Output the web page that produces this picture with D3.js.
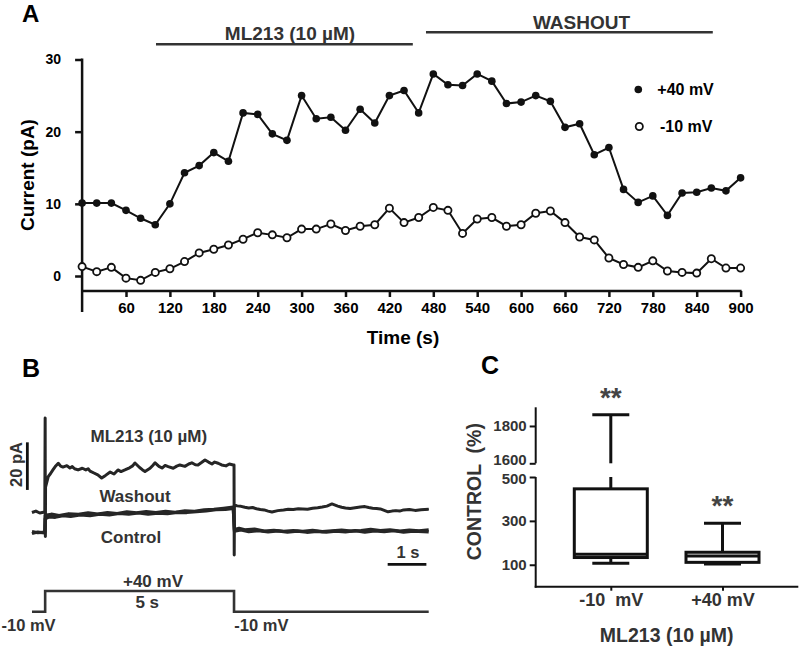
<!DOCTYPE html>
<html>
<head>
<meta charset="utf-8">
<script src="https://cdn.jsdelivr.net/npm/d3@7"></script>
<style>
  body { margin: 0; background: #fff; }
  svg { display: block; }
  text { font-family: "Liberation Sans", Arial, sans-serif; font-weight: bold; }
</style>
</head>
<body>
<script>
// ---------------- Panel A data ----------------
const timeA = [0,20,40,60,80,100,120,140,160,180,200,220,240,260,280,300,320,340,360,380,400,420,440,460,480,500,520,540,560,580,600,620,640,660,680,700,720,740,760,780,800,820,840,860,880,900];
const plus40 = [10.1,10.1,10.1,9.1,8.0,7.1,10.0,14.3,15.3,17.1,15.9,22.6,22.4,19.7,18.8,25.0,21.8,22.0,20.2,23.1,21.2,25.0,25.7,22.6,28.0,26.5,26.4,28.0,27.0,23.9,24.1,25.0,24.2,20.6,21.1,16.8,17.8,12.0,10.2,11.1,8.4,11.5,11.6,12.2,11.8,13.6];
const minus10 = [1.3,0.6,1.2,-0.3,-0.6,0.5,1.0,2.0,3.2,3.7,4.3,5.1,6.0,5.7,5.3,6.5,6.5,7.2,6.3,6.9,7.1,9.4,7.4,8.1,9.5,9.1,5.9,7.9,8.1,6.9,7.1,8.7,9.0,7.4,5.4,5.0,2.5,1.6,1.2,2.1,0.7,0.5,0.4,2.4,1.1,1.1];
const yTicksA = [0,10,20,30];
const xTicksA = [60,120,180,240,300,360,420,480,540,600,660,720,780,840,900];
const periods = [ {label: "ML213 (10 µM)", start: 101, end: 452}, {label: "WASHOUT", start: 470, end: 862} ];
const legendA = ["+40 mV", "-10 mV"];

// ---------------- Panel B data (time s, current pA) ----------------
const traceML213 = [[0,8.6],[0.1,9.2],[0.2,8.4],[0.33,8.8],[0.34,48.3],[0.345,-1.5],[0.35,19.3],
 [0.42,23.7],[0.48,25.0],[0.54,26.5],[0.6,27.9],[0.68,29.3],[0.74,28.1],[0.8,27.7],[0.9,28.3],[0.98,27.3],[1.04,27.9],[1.1,27.0],[1.19,26.5],[1.3,27.2],[1.39,26.5],[1.45,27.0],[1.5,26.0],[1.6,25.2],[1.7,24.4],[1.8,23.1],[1.9,24.2],[2.02,25.6],[2.12,24.8],[2.22,26.5],[2.3,25.8],[2.4,26.5],[2.52,27.4],[2.6,28.2],[2.66,29.4],[2.78,27.5],[2.85,26.6],[2.92,25.8],[3.05,27.2],[3.12,28.4],[3.18,29.5],[3.28,28.0],[3.36,27.3],[3.44,28.4],[3.52,27.9],[3.65,27.2],[3.74,28.1],[3.82,28.6],[3.95,28.0],[4.05,29.0],[4.13,29.5],[4.22,28.7],[4.29,28.6],[4.38,29.6],[4.47,30.7],[4.56,29.8],[4.65,29.0],[4.72,29.8],[4.81,29.3],[4.9,28.6],[5.01,28.2],[5.1,29.0],[5.2,28.6],
 [5.22,28.6],[5.225,-9.2],[5.23,11.8],
 [5.3,11.4],[5.4,11.2],[5.5,10.8],[5.6,10.5],[5.7,10.7],[5.8,10.2],[5.9,9.9],[6.0,9.7],[6.1,9.2],[6.2,8.8],[6.35,9.4],[6.5,9.7],[6.62,10.0],[6.75,9.9],[6.88,10.2],[7.0,10.1],[7.12,10.0],[7.25,10.4],[7.38,10.6],[7.5,10.9],[7.62,11.3],[7.75,12.2],[7.9,11.3],[8.0,10.8],[8.1,10.5],[8.22,10.3],[8.35,10.6],[8.48,10.9],[8.6,11.1],[8.7,10.7],[8.8,10.4],[8.9,10.3],[9.0,10.1],[9.1,9.5],[9.2,8.9],[9.3,9.2],[9.4,9.4],[9.5,9.2],[9.6,9.7],[9.75,9.9],[9.9,9.5],[10.05,9.8],[10.25,10.0]];
const traceControl = [[0,-0.2],[0.15,0.4],[0.33,0.0],[0.34,6.0],[0.45,6.8],[0.6,6.6],[0.8,7.3],[1.0,7.0],[1.25,7.6],[1.5,7.3],[1.75,7.9],[2.0,7.6],[2.25,8.2],[2.5,7.9],[2.75,8.4],[3.0,7.9],[3.25,8.3],[3.5,8.1],[3.75,8.7],[4.0,8.6],[4.25,9.0],[4.5,9.3],[4.75,9.8],[5.0,9.9],[5.2,10.3],
 [5.23,1.5],[5.35,2.0],[5.5,1.3],[5.75,1.6],[6.0,0.8],[6.25,1.1],[6.5,0.7],[6.75,1.0],[7.0,0.7],[7.25,1.1],[7.5,0.6],[7.75,0.9],[8.0,1.2],[8.25,0.8],[8.5,1.0],[8.75,1.5],[9.0,1.0],[9.25,1.3],[9.5,0.8],[9.75,1.2],[10.0,0.9],[10.25,1.3]];
const traceWashout = [[0,0.6],[0.15,0.1],[0.33,0.4],[0.34,7.4],[0.5,7.9],[0.7,7.3],[0.95,8.1],[1.2,7.8],[1.45,8.5],[1.7,7.9],[1.95,8.6],[2.2,8.2],[2.45,8.9],[2.7,8.5],[2.95,9.0],[3.2,8.6],[3.45,9.1],[3.7,8.7],[3.95,9.3],[4.2,9.1],[4.45,9.7],[4.7,9.9],[4.95,10.4],[5.2,10.9],
 [5.23,0.8],[5.4,1.3],[5.6,0.6],[5.85,1.0],[6.1,0.5],[6.35,0.9],[6.6,0.4],[6.85,0.8],[7.1,0.3],[7.35,0.7],[7.6,0.4],[7.85,0.8],[8.1,0.5],[8.35,1.0],[8.6,0.4],[8.85,0.9],[9.1,0.6],[9.35,1.0],[9.6,0.4],[9.85,0.8],[10.25,0.5]];
const protocol = [[0,-10],[0.34,-10],[0.34,40],[5.22,40],[5.22,-10],[10.25,-10]];

// ---------------- Panel C data ----------------
const groupsC = ["-10  mV", "+40 mV"];
const boxMin = [107, 104];
const boxQ1 = [133, 111];
const boxMedian = [148, 140];
const boxQ3 = [446, 157];
const boxMax = [1860, 289];
const lowTicksC = [100, 300, 500];
const highTicksC = [1600, 1800];

const ink = "#111";
const grey = "#333";

const svg = d3.select("body").append("svg").attr("width", 800).attr("height", 651);

// ================= Panel A =================
const xA = d3.scaleLinear().domain([0, 900]).range([82.1, 740.6]);
const yA = d3.scaleLinear().domain([0, 30]).range([276, 59.5]);
const gA = svg.append("g");

gA.append("text").attr("x", 22).attr("y", 22).attr("font-size", 24).attr("fill", "#000").text("A");

// y axis
const yAx = gA.append("g").attr("transform", `translate(${xA(0)},0)`)
  .call(d3.axisLeft(yA).tickValues(yTicksA).tickSize(7).tickPadding(14).tickFormat(d3.format("d")));
yAx.select(".domain").remove();
yAx.selectAll(".tick line").attr("stroke", ink).attr("stroke-width", 2.5);
yAx.selectAll(".tick text").attr("font-size", 14).attr("fill", "#000");
gA.append("line").attr("x1", xA(0)).attr("x2", xA(0)).attr("y1", yA(30) - 1).attr("y2", 312)
  .attr("stroke", ink).attr("stroke-width", 2.5);

// x axis
const xAx = gA.append("g").attr("transform", "translate(0,291)")
  .call(d3.axisBottom(xA).tickValues(xTicksA).tickSize(6).tickPadding(5).tickFormat(d3.format("d")));
xAx.select(".domain").remove();
xAx.selectAll(".tick line").attr("stroke", ink).attr("stroke-width", 2.5);
xAx.selectAll(".tick text").attr("font-size", 15).attr("fill", "#000");
gA.append("line").attr("x1", xA(0)).attr("x2", xA(900) + 1).attr("y1", 291).attr("y2", 291)
  .attr("stroke", ink).attr("stroke-width", 2.5);

gA.append("text").attr("x", 403).attr("y", 344).attr("text-anchor", "middle").attr("font-size", 19).attr("fill", "#000").text("Time (s)");
gA.append("text").attr("transform", "translate(34,175) rotate(-90)").attr("text-anchor", "middle").attr("font-size", 19).attr("fill", "#000").text("Current (pA)");

// period bars
const barY = [44.3, 32.3];
const labY = [39.5, 28.5];
periods.forEach((p, i) => {
  gA.append("line").attr("x1", xA(p.start)).attr("x2", xA(p.end)).attr("y1", barY[i]).attr("y2", barY[i])
    .attr("stroke", grey).attr("stroke-width", 2.5);
  gA.append("text").attr("x", i === 0 ? 290 : 581.5).attr("y", labY[i]).attr("text-anchor", "middle")
    .attr("font-size", 19).attr("fill", grey).text(p.label);
});

// series
const lineA = d3.line().x((d, i) => xA(timeA[i])).y(d => yA(d));
gA.append("path").datum(plus40).attr("d", lineA).attr("fill", "none").attr("stroke", ink).attr("stroke-width", 2);
gA.append("path").datum(minus10).attr("d", lineA).attr("fill", "none").attr("stroke", ink).attr("stroke-width", 2);
gA.selectAll(".pf").data(plus40).join("circle").attr("class", "pf")
  .attr("cx", (d, i) => xA(timeA[i])).attr("cy", d => yA(d)).attr("r", 3.8).attr("fill", ink);
gA.selectAll(".po").data(minus10).join("circle").attr("class", "po")
  .attr("cx", (d, i) => xA(timeA[i])).attr("cy", d => yA(d)).attr("r", 3.6)
  .attr("fill", "#fff").attr("stroke", ink).attr("stroke-width", 1.8);

// legend
gA.append("circle").attr("cx", 638.3).attr("cy", 89.5).attr("r", 3.8).attr("fill", ink);
gA.append("text").attr("x", 657.3).attr("y", 95).attr("font-size", 16).attr("fill", "#000").text(legendA[0]);
gA.append("circle").attr("cx", 639.3).attr("cy", 126.5).attr("r", 3.6).attr("fill", "#fff").attr("stroke", ink).attr("stroke-width", 1.8);
gA.append("text").attr("x", 660).attr("y", 131.7).attr("font-size", 16).attr("fill", "#000").text(legendA[1]);

// ================= Panel B =================
const gB = svg.append("g");
const xB = d3.scaleLinear().domain([0, 10.25]).range([32, 428.7]);
const yB = d3.scaleLinear().domain([0, 20]).range([533, 533 - 47.6]);
const yV = d3.scaleLinear().domain([-10, 40]).range([611.7, 591]);

gB.append("text").attr("x", 22).attr("y", 377).attr("font-size", 25).attr("fill", "#000").text("B");

const lineB = d3.line().x(d => xB(d[0])).y(d => yB(d[1]));
[traceControl, traceWashout].forEach(tr => {
  gB.append("path").datum(tr).attr("d", lineB).attr("fill", "none")
    .attr("stroke", "#262626").attr("stroke-width", 3.2).attr("stroke-linejoin", "round");
});
gB.append("path").datum(traceML213).attr("d", lineB).attr("fill", "none")
  .attr("stroke", "#262626").attr("stroke-width", 3).attr("stroke-linejoin", "round");
// thin capacitive transients
gB.append("path").datum(traceML213).attr("d", lineB).attr("fill", "none")
  .attr("stroke", "#262626").attr("stroke-width", 1.5);

// scale bars
gB.append("line").attr("x1", xB(-0.12)).attr("x2", xB(-0.12)).attr("y1", yB(18.1)).attr("y2", yB(38.1))
  .attr("stroke", ink).attr("stroke-width", 2.8);
gB.append("line").attr("x1", xB(9.19)).attr("x2", xB(10.19)).attr("y1", yB(-13.2)).attr("y2", yB(-13.2))
  .attr("stroke", ink).attr("stroke-width", 2.8);
gB.append("text").attr("transform", "translate(21.5,464.5) rotate(-90)").attr("text-anchor", "middle")
  .attr("font-size", 16.5).attr("fill", grey).text("20 pA");
gB.append("text").attr("x", 408).attr("y", 558.3).attr("text-anchor", "middle").attr("font-size", 16.5).attr("fill", grey).text("1 s");

gB.append("text").attr("x", 148.8).attr("y", 441.7).attr("text-anchor", "middle").attr("font-size", 17).attr("fill", grey).text("ML213 (10 µM)");
gB.append("text").attr("x", 135).attr("y", 501.7).attr("text-anchor", "middle").attr("font-size", 17).attr("fill", grey).text("Washout");
gB.append("text").attr("x", 131).attr("y", 543.3).attr("text-anchor", "middle").attr("font-size", 17).attr("fill", grey).text("Control");

// voltage protocol
const lineV = d3.line().x(d => xB(d[0])).y(d => yV(d[1]));
gB.append("path").datum(protocol).attr("d", lineV).attr("fill", "none").attr("stroke", grey).attr("stroke-width", 2.6);
gB.append("text").attr("x", 153).attr("y", 586.7).attr("text-anchor", "middle").attr("font-size", 17).attr("fill", grey).text("+40 mV");
gB.append("text").attr("x", 147.2).attr("y", 608.3).attr("text-anchor", "middle").attr("font-size", 17).attr("fill", grey).text("5 s");
gB.append("text").attr("x", 1.5).attr("y", 631).attr("font-size", 16.5).attr("fill", grey).text("-10 mV");
gB.append("text").attr("x", 234.3).attr("y", 631).attr("font-size", 16.5).attr("fill", grey).text("-10 mV");

// ================= Panel C =================
const gC = svg.append("g");
const xC = d3.scalePoint().domain(groupsC).range([610.8, 722.5]);
const yLow = d3.scaleLinear().domain([0, 500]).range([586.7, 477]);
const yHigh = d3.scaleLinear().domain([1600, 1900]).range([463.3, 407.3]);
const axX = 535.7;

gC.append("text").attr("x", 481).attr("y", 373.5).attr("font-size", 25).attr("fill", "#000").text("C");

const lowAx = gC.append("g").attr("transform", `translate(${axX},0)`)
  .call(d3.axisLeft(yLow).tickValues(lowTicksC).tickSize(6).tickPadding(3).tickFormat(d3.format("d")));
const highAx = gC.append("g").attr("transform", `translate(${axX},0)`)
  .call(d3.axisLeft(yHigh).tickValues(highTicksC).tickSize(6).tickPadding(3).tickFormat(d3.format("d")));
[lowAx, highAx].forEach(a => {
  a.select(".domain").remove();
  a.selectAll(".tick line").attr("stroke", ink).attr("stroke-width", 2);
  a.selectAll(".tick text").attr("font-size", 15).attr("fill", grey);
});
// nudge the "1600" label slightly up so it does not collide with "500"
highAx.selectAll(".tick text").filter(d => d === 1600).attr("dy", "0.05em");
lowAx.selectAll(".tick text").filter(d => d === 500).attr("dy", "0.45em");
gC.append("line").attr("x1", axX).attr("x2", axX).attr("y1", yLow(500)).attr("y2", yLow(0) + 1).attr("stroke", ink).attr("stroke-width", 2);
gC.append("line").attr("x1", axX).attr("x2", axX).attr("y1", yHigh(1900)).attr("y2", yHigh(1600)).attr("stroke", ink).attr("stroke-width", 2);

const xAxC = gC.append("g").attr("transform", `translate(0,${yLow(0)})`)
  .call(d3.axisBottom(xC).tickSize(4).tickPadding(3));
xAxC.select(".domain").remove();
xAxC.selectAll(".tick line").attr("stroke", ink).attr("stroke-width", 2);
xAxC.selectAll(".tick text").attr("font-size", 18).attr("fill", grey).style("white-space", "pre");
gC.append("line").attr("x1", axX - 1).attr("x2", 798.3).attr("y1", yLow(0)).attr("y2", yLow(0)).attr("stroke", ink).attr("stroke-width", 2);

gC.append("text").attr("transform", "translate(481,491.7) rotate(-90)").attr("text-anchor", "middle")
  .attr("font-size", 19.5).attr("fill", grey).style("white-space", "pre").text("CONTROL  (%)");
gC.append("text").attr("x", 666.7).attr("y", 641.7).attr("text-anchor", "middle").attr("font-size", 19.5).attr("fill", grey).text("ML213 (10 µM)");

// boxes
const boxW = 73, capW = 37, sw = 3;
const yVal = v => v > 500 ? yHigh(v) : yLow(v);
groupsC.forEach((g, i) => {
  const cx = xC(g);
  gC.append("line").attr("x1", cx).attr("x2", cx).attr("y1", yLow(boxQ1[i])).attr("y2", yLow(boxMin[i])).attr("stroke", ink).attr("stroke-width", sw);
  gC.append("line").attr("x1", cx - capW / 2).attr("x2", cx + capW / 2).attr("y1", yLow(boxMin[i])).attr("y2", yLow(boxMin[i])).attr("stroke", ink).attr("stroke-width", sw);
  if (boxMax[i] > 500) {
    gC.append("line").attr("x1", cx).attr("x2", cx).attr("y1", yLow(boxQ3[i])).attr("y2", yLow(500)).attr("stroke", ink).attr("stroke-width", sw);
    gC.append("line").attr("x1", cx).attr("x2", cx).attr("y1", yHigh(1600)).attr("y2", yHigh(boxMax[i])).attr("stroke", ink).attr("stroke-width", sw);
  } else {
    gC.append("line").attr("x1", cx).attr("x2", cx).attr("y1", yLow(boxQ3[i])).attr("y2", yLow(boxMax[i])).attr("stroke", ink).attr("stroke-width", sw);
  }
  gC.append("line").attr("x1", cx - capW / 2).attr("x2", cx + capW / 2).attr("y1", yVal(boxMax[i])).attr("y2", yVal(boxMax[i])).attr("stroke", ink).attr("stroke-width", sw);
  gC.append("rect").attr("x", cx - boxW / 2).attr("width", boxW)
    .attr("y", yLow(boxQ3[i])).attr("height", yLow(boxQ1[i]) - yLow(boxQ3[i]))
    .attr("fill", "#fff").attr("stroke", ink).attr("stroke-width", sw);
  gC.append("line").attr("x1", cx - boxW / 2).attr("x2", cx + boxW / 2).attr("y1", yLow(boxMedian[i])).attr("y2", yLow(boxMedian[i])).attr("stroke", ink).attr("stroke-width", sw);
  gC.append("text").attr("x", cx).attr("y", yVal(boxMax[i]) - 8).attr("text-anchor", "middle")
    .attr("font-size", 28).attr("font-weight", "normal").attr("fill", "#444").text("**");
});
</script>
</body>
</html>
